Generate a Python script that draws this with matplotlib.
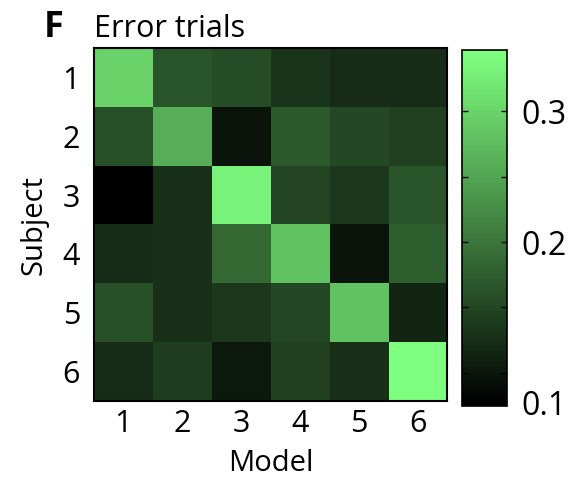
import numpy as np
import matplotlib
matplotlib.use("Agg")
import matplotlib.pyplot as plt
from matplotlib.colors import ListedColormap, Normalize
from matplotlib.transforms import ScaledTranslation

plt.rcParams['font.family'] = ['Open Sans', 'DejaVu Sans']

# Error-trial values: rows = subjects, columns = models
subjects = ["1", "2", "3", "4", "5", "6"]
models = ["1", "2", "3", "4", "5", "6"]
row_s1 = [0.296, 0.165, 0.158, 0.130, 0.122, 0.122]
row_s2 = [0.160, 0.261, 0.098, 0.170, 0.155, 0.144]
row_s3 = [0.075, 0.128, 0.333, 0.147, 0.137, 0.164]
row_s4 = [0.123, 0.126, 0.187, 0.281, 0.100, 0.174]
row_s5 = [0.162, 0.126, 0.135, 0.153, 0.281, 0.113]
row_s6 = [0.124, 0.141, 0.103, 0.144, 0.126, 0.347]

cbar_ticks = [0.1, 0.15, 0.2, 0.25, 0.3]
cbar_labels = ["0.1", "", "0.2", "", "0.3"]
vmin, vmax = 0.0747, 0.3467

values = np.array([row_s1, row_s2, row_s3, row_s4, row_s5, row_s6])

# 64-step black -> light green map
levels = np.linspace(0, 1, 64)[:, None]
cmap = ListedColormap(levels * np.array([0.5, 1.0, 0.5]))
norm = Normalize(vmin=vmin, vmax=vmax)

fig = plt.figure(figsize=(5.8, 4.8), dpi=100)
ax = fig.add_axes([0.162, 0.1646, 0.609, 0.735])
cax = fig.add_axes([0.7966, 0.154, 0.0776, 0.742])

im = ax.imshow(values, cmap=cmap, norm=norm, aspect='auto', interpolation='nearest')
ax.set_xticks(range(len(models)))
ax.set_xticklabels(models)
ax.set_yticks(range(len(subjects)))
ax.set_yticklabels(subjects)
ax.tick_params(length=0, labelsize=22, pad=6)
ax.tick_params(axis='y', pad=10)
for s in ax.spines.values():
    s.set_linewidth(1.5)
ax.set_xlabel("Model", fontsize=21, labelpad=7)
ax.set_ylabel("Subject", fontsize=21, labelpad=10)
ax.set_title("Error trials", fontsize=22, loc='left', pad=8, x=0.0)
fig.text(0.075, 0.922, "F", fontsize=26, fontweight='bold', ha='left', va='baseline')

cb = fig.colorbar(im, cax=cax)
cb.set_ticks(cbar_ticks)
cb.set_ticklabels(cbar_labels)
cb.outline.set_linewidth(1.2)
cax.tick_params(direction='in', left=True, right=True, length=4, width=1,
                labelsize=23, pad=10)
# the lowest label sits at the bottom edge of the bar
lab = cax.get_yticklabels()[0]
lab.set_transform(lab.get_transform() + ScaledTranslation(0, -0.30, fig.dpi_scale_trans))

fig.savefig("out.png", dpi=100)
